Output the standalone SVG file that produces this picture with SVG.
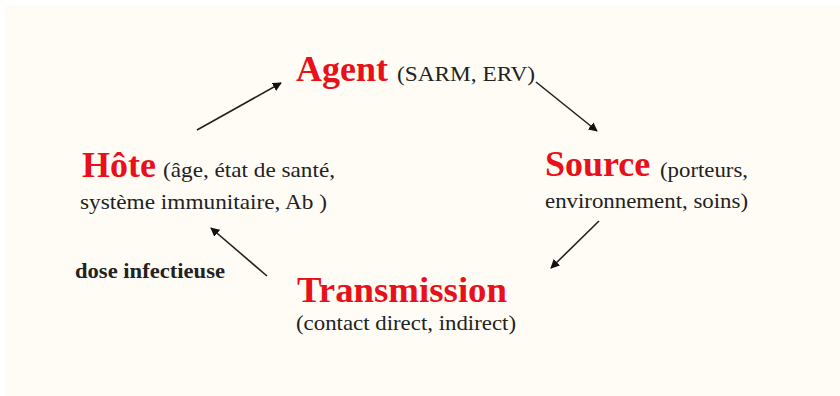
<svg xmlns="http://www.w3.org/2000/svg" width="840" height="396" viewBox="0 0 840 396">
<style>
.bg{fill:#fefcf5}
.lbl{font-family:"Liberation Serif","Times New Roman",serif;font-weight:bold;font-size:36px;fill:#e8101a}
.sub{font-family:"Liberation Serif","Times New Roman",serif;font-size:21px;fill:#222}
.bsub{font-family:"Liberation Serif","Times New Roman",serif;font-weight:bold;font-size:20px;fill:#222}
.arr{stroke:#222;stroke-width:1.6;fill:none;marker-end:url(#ah)}
</style>
<defs>
<marker id="ah" viewBox="0 0 10 10" refX="9" refY="5" markerWidth="9" markerHeight="9" markerUnits="userSpaceOnUse" orient="auto">
<path d="M0,0 L10,5 L0,10 z" fill="#111"/>
</marker>
</defs>
<rect x="0" y="0" width="840" height="396" fill="#ffffff"/>
<rect class="bg" x="5" y="5" width="835" height="391"/>
<g id="agent">
<text class="lbl" x="296" y="81">Agent</text>
<text class="sub" x="397" y="81" textLength="138" lengthAdjust="spacingAndGlyphs">(SARM, ERV)</text>
</g>
<g id="source">
<text class="lbl" x="545" y="176">Source</text>
<text class="sub" x="660" y="177" textLength="88" lengthAdjust="spacingAndGlyphs">(porteurs,</text>
<text class="sub" x="545" y="208" textLength="203" lengthAdjust="spacingAndGlyphs">environnement, soins)</text>
</g>
<g id="transmission">
<text class="lbl" x="297" y="302" textLength="210" lengthAdjust="spacingAndGlyphs">Transmission</text>
<text class="sub" x="296" y="330" textLength="220" lengthAdjust="spacingAndGlyphs">(contact direct, indirect)</text>
</g>
<g id="hote">
<text class="lbl" x="82" y="177">Hôte</text>
<text class="sub" x="163" y="177" textLength="172" lengthAdjust="spacingAndGlyphs">(âge, état de santé,</text>
<text class="sub" x="80" y="209" textLength="247" lengthAdjust="spacingAndGlyphs">système immunitaire, Ab )</text>
</g>
<g id="dose">
<text class="bsub" x="75" y="278" textLength="150" lengthAdjust="spacingAndGlyphs">dose infectieuse</text>
</g>
<g id="connectors">
<line class="arr" x1="197" y1="130" x2="281" y2="83"/>
<line class="arr" x1="536" y1="82" x2="597" y2="131"/>
<line class="arr" x1="599" y1="221" x2="551" y2="268"/>
<line class="arr" x1="267" y1="276" x2="211" y2="228"/>
</g>
</svg>
